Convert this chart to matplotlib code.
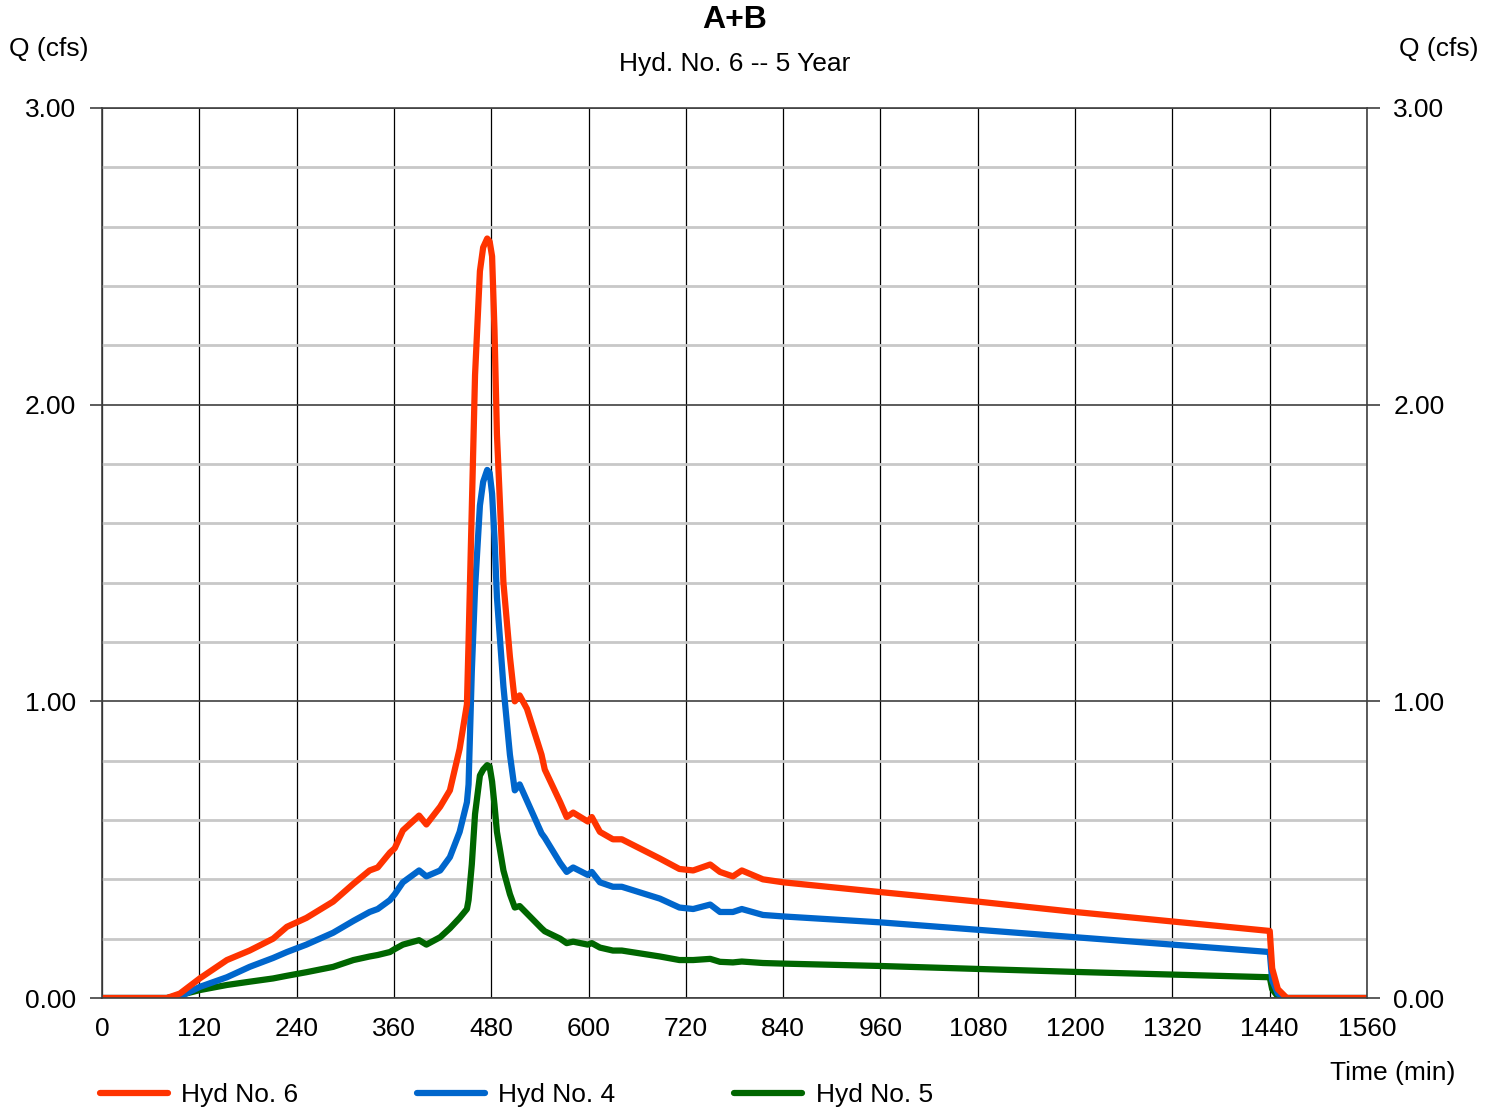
import matplotlib.pyplot as plt
from matplotlib.ticker import MultipleLocator

# hydrograph data (time in min, Q in cfs)
time_min = [0, 80, 96, 121, 154, 182, 211, 228, 252, 285, 310, 330, 340, 355,
            361, 371, 391, 400, 417, 429, 441, 450, 452, 456, 460, 466, 470,
            475, 478, 481, 484, 487, 495, 503, 509, 515, 524, 542, 546, 565,
            573, 581, 599, 604, 614, 630, 641, 688, 712, 729, 750, 762, 778,
            789, 815, 840, 960, 1080, 1200, 1320, 1440, 1443, 1450, 1461, 1560]

hyd6 = [0, 0, 0.015, 0.067, 0.128, 0.16, 0.20, 0.24, 0.27, 0.325, 0.385, 0.43,
        0.44, 0.49, 0.505, 0.565, 0.615, 0.585, 0.645, 0.70, 0.84, 0.99, 1.20,
        1.65, 2.10, 2.45, 2.53, 2.56, 2.55, 2.50, 2.25, 1.90, 1.40, 1.15,
        1.00, 1.02, 0.975, 0.82, 0.77, 0.66, 0.61, 0.625, 0.595, 0.61, 0.56,
        0.535, 0.535, 0.47, 0.435, 0.43, 0.45, 0.425, 0.41, 0.43, 0.40, 0.39,
        0.357, 0.325, 0.29, 0.258, 0.226, 0.10, 0.03, 0.0, 0.0]

hyd4 = [0, 0, 0.005, 0.038, 0.07, 0.105, 0.135, 0.155, 0.18, 0.22, 0.26, 0.29,
        0.30, 0.33, 0.35, 0.39, 0.43, 0.41, 0.43, 0.475, 0.56, 0.66, 0.72,
        1.10, 1.38, 1.66, 1.74, 1.78, 1.77, 1.70, 1.55, 1.35, 1.05, 0.82,
        0.70, 0.72, 0.665, 0.555, 0.54, 0.455, 0.425, 0.44, 0.415, 0.425,
        0.39, 0.375, 0.375, 0.335, 0.305, 0.30, 0.315, 0.29, 0.29, 0.30, 0.28,
        0.275, 0.255, 0.23, 0.205, 0.18, 0.155, 0.06, 0.015, 0.0, 0.0]

hyd5 = [0, 0, 0.01, 0.027, 0.044, 0.055, 0.066, 0.075, 0.087, 0.105, 0.128,
        0.14, 0.145, 0.155, 0.165, 0.18, 0.195, 0.18, 0.205, 0.235, 0.27, 0.30,
        0.33, 0.45, 0.62, 0.75, 0.77, 0.785, 0.78, 0.73, 0.65, 0.56, 0.43,
        0.35, 0.305, 0.31, 0.285, 0.235, 0.225, 0.20, 0.185, 0.19, 0.18,
        0.185, 0.17, 0.16, 0.16, 0.14, 0.128, 0.128, 0.132, 0.122, 0.12,
        0.123, 0.118, 0.116, 0.108, 0.098, 0.088, 0.079, 0.07, 0.03, 0.005,
        0.0, 0.0]

series = [("Hyd No. 6", hyd6, "#ff3300"),
          ("Hyd No. 4", hyd4, "#0066cc"),
          ("Hyd No. 5", hyd5, "#006600")]

plt.rcParams["font.family"] = ["Liberation Sans", "DejaVu Sans"]
FS = 19

fig = plt.figure(figsize=(14.96, 11.12), dpi=100)
ax = fig.add_axes([0.0682, 0.1025, 0.8456, 0.8004])

# draw in reverse so red sits on top
for label, vals, col in reversed(series):
    ax.plot(time_min, vals, color=col, lw=4.5, solid_capstyle="round",
            solid_joinstyle="round", label=label)

ax.set_xlim(0, 1560)
ax.set_ylim(0, 3)
ax.xaxis.set_major_locator(MultipleLocator(120))
ax.yaxis.set_major_locator(MultipleLocator(1))
ax.yaxis.set_minor_locator(MultipleLocator(0.2))
ax.yaxis.set_major_formatter(lambda v, p: f"{v:.2f}")

ax.grid(axis="x", color="black", lw=0.9)
ax.grid(axis="y", which="minor", color="#c8c8c8", lw=2)
ax.grid(axis="y", which="major", color="#404040", lw=1.2)
ax.set_axisbelow(True)

ax.tick_params(axis="x", length=0, labelsize=FS, pad=14)
ax.tick_params(axis="y", which="major", length=9, width=1.2, color="#404040",
               labelsize=FS, pad=10, right=True, labelright=True)
ax.tick_params(axis="y", which="minor", length=0)
for s in ax.spines.values():
    s.set_color("#404040")
    s.set_linewidth(1.2)

fig.text(0.491, 0.982, "A+B", ha="center", va="center", fontsize=23,
         fontweight="bold")
fig.text(0.491, 0.942, "Hyd. No. 6 -- 5 Year", ha="center", va="center",
         fontsize=FS)
fig.text(0.006, 0.956, "Q (cfs)", ha="left", va="center", fontsize=FS)
fig.text(0.988, 0.956, "Q (cfs)", ha="right", va="center", fontsize=FS)
fig.text(0.973, 0.035, "Time (min)", ha="right", va="center", fontsize=FS)

handles, labels = ax.get_legend_handles_labels()
fig.legend(handles[::-1], labels[::-1], loc="center left",
           bbox_to_anchor=(0.0668, 0.0153), ncol=3, frameon=False, fontsize=FS,
           borderpad=0, borderaxespad=0, handlelength=2.58, handletextpad=0.5,
           columnspacing=4.5)

fig.savefig("out.png", dpi=100)
